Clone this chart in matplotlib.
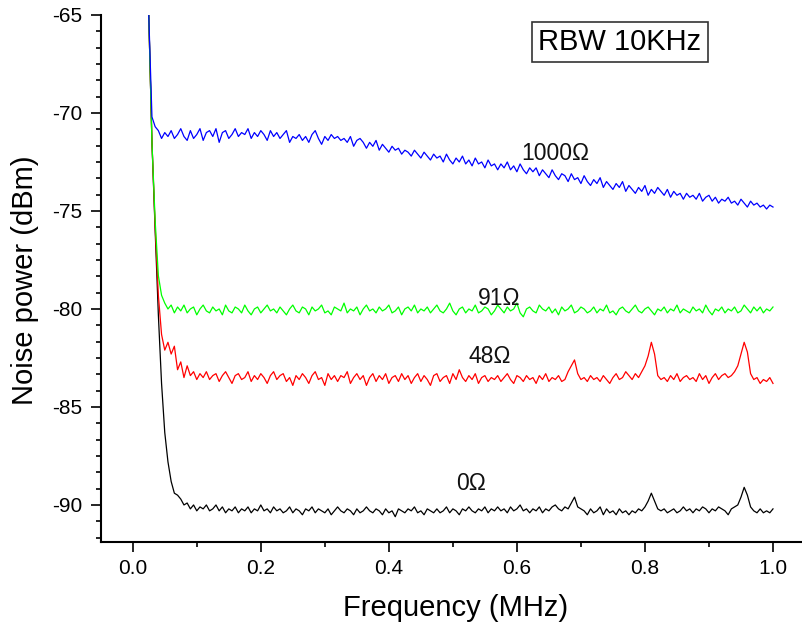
import numpy as np
import matplotlib
matplotlib.use("Agg")
import matplotlib.pyplot as plt
from matplotlib.ticker import MultipleLocator, AutoMinorLocator

plt.rcParams['font.family'] = ['Liberation Sans', 'DejaVu Sans']

# Frequency grid (MHz), sampled every 0.005 MHz from 0.025 to 1.0
freq_start, freq_stop, freq_step = 0.025, 1.0, 0.005
freq_mhz = np.round(np.arange(freq_start, freq_stop + freq_step / 2, freq_step), 4)

# Noise power (dBm) for each termination
p_1000ohm = [
    -65.0, -70.2, -70.7, -70.9, -71.3, -71.0, -71.2, -70.9, -71.3, -71.1,
    -70.8, -71.2, -71.4, -70.9, -71.3, -71.1, -70.8, -71.4, -71.0, -70.9,
    -71.2, -70.8, -71.5, -71.0, -70.9, -71.3, -71.1, -70.8, -71.2, -71.0,
    -71.1, -70.8, -71.3, -71.0, -71.2, -70.9, -71.1, -71.4, -70.9, -71.2,
    -71.0, -71.3, -71.1, -70.9, -71.5, -71.2, -71.3, -71.1, -71.4, -71.2,
    -71.5, -71.1, -70.9, -71.3, -71.6, -71.2, -71.4, -71.1, -71.3, -71.2,
    -71.4, -71.3, -71.5, -71.2, -71.7, -71.4, -71.3, -71.5, -71.8, -71.5,
    -71.7, -71.4, -71.9, -71.6, -71.8, -72.0, -71.7, -71.9, -71.8, -72.1,
    -71.9, -72.0, -72.2, -71.9, -72.1, -72.3, -72.0, -72.2, -72.4, -72.1,
    -72.3, -72.2, -72.5, -72.1, -72.4, -72.6, -72.3, -72.5, -72.2, -72.6,
    -72.4, -72.7, -72.3, -72.6, -72.5, -72.8, -72.4, -72.7, -72.6, -72.9,
    -72.6, -72.8, -72.5, -72.9, -72.7, -73.0, -72.6, -72.9, -73.1, -72.8,
    -73.0, -72.8, -73.2, -72.9, -73.1, -73.3, -72.9, -73.2, -73.4, -73.1,
    -73.2, -73.5, -73.1, -73.4, -73.3, -73.6, -73.2, -73.5, -73.7, -73.4,
    -73.6, -73.3, -73.8, -73.5, -73.7, -73.9, -73.6, -73.8, -73.5, -74.0,
    -73.7, -73.9, -74.1, -73.8, -74.0, -73.7, -74.2, -73.9, -74.1, -73.8,
    -74.0, -74.2, -73.9, -74.3, -74.0, -74.2, -74.1, -74.4, -74.1, -74.3,
    -74.2, -74.4, -74.1, -74.5, -74.3, -74.2, -74.5, -74.3, -74.6, -74.4,
    -74.5, -74.3, -74.6, -74.5, -74.7, -74.4, -74.6, -74.8, -74.5, -74.7,
    -74.6, -74.8, -74.7, -74.9, -74.7, -74.8,
]

p_91ohm = [
    -65.0, -71.5, -75.5, -78.3, -79.3, -79.7, -80.0, -79.8, -80.2, -79.9,
    -80.1, -79.8, -80.2, -80.0, -79.9, -80.3, -80.0, -79.8, -80.1, -80.2,
    -79.9, -80.1, -80.0, -80.3, -79.8, -80.1, -80.2, -79.9, -80.0, -80.2,
    -79.8, -80.1, -80.3, -80.0, -79.9, -80.2, -80.0, -79.8, -80.1, -80.0,
    -80.2, -79.9, -80.1, -80.3, -80.0, -79.8, -80.1, -80.2, -79.9, -80.0,
    -80.3, -79.9, -80.1, -80.0, -79.8, -80.2, -80.1, -80.3, -79.9, -80.0,
    -80.1, -79.7, -80.2, -80.0, -80.1, -79.9, -80.3, -80.0, -79.8, -80.1,
    -80.0, -80.2, -79.9, -80.1, -80.0, -79.8, -80.2, -80.1, -79.9, -80.3,
    -80.0, -79.9, -80.1, -79.8, -80.2, -80.0, -80.1, -79.9, -80.2, -80.0,
    -79.8, -80.1, -80.2, -80.0, -79.7, -80.1, -80.3, -80.0, -79.9, -80.2,
    -80.0, -80.1, -79.8, -80.2, -80.1, -79.9, -80.0, -80.3, -80.1, -79.8,
    -80.0, -80.2, -79.9, -80.1, -80.0, -79.7, -80.2, -80.4, -80.0, -79.9,
    -80.1, -80.2, -79.8, -80.0, -80.1, -79.9, -80.2, -80.0, -80.3, -79.9,
    -80.1, -80.0, -79.8, -80.2, -80.1, -79.9, -80.0, -80.2, -80.1, -79.9,
    -80.2, -80.0, -80.1, -79.8, -80.2, -80.1, -80.3, -80.0, -79.9, -80.1,
    -80.2, -80.0, -79.8, -80.1, -80.2, -80.0, -79.9, -80.1, -80.3, -80.0,
    -80.1, -79.9, -80.2, -80.0, -80.1, -79.8, -80.2, -80.0, -80.1, -80.2,
    -79.9, -80.1, -80.0, -80.2, -79.8, -80.1, -80.3, -80.0, -80.1, -79.9,
    -80.2, -80.0, -80.1, -79.9, -80.2, -80.1, -79.8, -80.0, -80.2, -79.9,
    -80.1, -79.9, -80.2, -80.0, -80.1, -79.9,
]

p_48ohm = [
    -65.0, -71.5, -75.8, -79.3, -81.3, -82.1, -81.7, -82.3, -81.9, -83.1,
    -82.7, -83.5, -82.9, -83.4, -83.2, -83.6, -83.3, -83.5, -83.2, -83.6,
    -83.4, -83.3, -83.7, -83.4, -83.2, -83.5, -83.8, -83.4, -83.3, -83.6,
    -83.5, -83.2, -83.7, -83.4, -83.6, -83.3, -83.5, -83.8, -83.4, -83.2,
    -83.6, -83.4, -83.3, -83.7, -83.5, -83.9, -83.4, -83.6, -83.3, -83.5,
    -83.8, -83.4, -83.2, -83.6, -83.5, -83.9, -83.3, -83.6, -83.4, -83.7,
    -83.4, -83.5, -83.2, -83.8, -83.5, -83.3, -83.6, -83.4, -83.9, -83.5,
    -83.3, -83.7, -83.4, -83.6, -83.3, -83.8, -83.5, -83.4, -83.7, -83.3,
    -83.6, -83.4, -83.8, -83.5, -83.3, -83.7, -83.4, -83.6, -83.9, -83.4,
    -83.3, -83.7, -83.5, -83.4, -83.8, -83.3, -83.6, -83.1, -83.5, -83.7,
    -83.4, -83.6, -83.3, -83.8, -83.5, -83.4, -83.7, -83.5, -83.6, -83.4,
    -83.7, -83.5, -83.3, -83.6, -83.8, -83.4, -83.5, -83.7, -83.4, -83.6,
    -83.5, -83.8, -83.4, -83.6, -83.3, -83.7, -83.5, -83.6, -83.4, -83.7,
    -83.6, -83.2, -82.9, -82.6, -83.3, -83.6, -83.5, -83.7, -83.4, -83.6,
    -83.5, -83.7, -83.4, -83.6, -83.8, -83.5, -83.3, -83.6, -83.5, -83.2,
    -83.4, -83.6, -83.3, -83.5, -83.2, -82.9, -82.4, -81.7, -82.3, -83.4,
    -83.6, -83.5, -83.7, -83.4, -83.6, -83.3, -83.7, -83.5, -83.4, -83.6,
    -83.5, -83.7, -83.3, -83.6, -83.4, -83.8, -83.5, -83.3, -83.6, -83.4,
    -83.3, -83.5, -83.4, -83.2, -82.9, -82.3, -81.7, -82.2, -83.3, -83.6,
    -83.5, -83.8, -83.6, -83.7, -83.5, -83.8,
]

p_0ohm = [
    -65.0, -71.5, -76.0, -80.3, -83.8, -86.3, -87.8, -88.8, -89.4, -89.5,
    -89.7, -90.0, -89.9, -90.2, -90.0, -90.3, -90.1, -90.2, -90.0, -90.3,
    -90.2, -90.0, -90.3, -90.1, -90.4, -90.2, -90.3, -90.1, -90.4, -90.2,
    -90.3, -90.1, -90.4, -90.2, -90.3, -90.0, -90.3, -90.2, -90.4, -90.1,
    -90.3, -90.2, -90.4, -90.3, -90.1, -90.4, -90.2, -90.3, -90.5, -90.2,
    -90.3, -90.1, -90.4, -90.2, -90.3, -90.4, -90.2, -90.5, -90.3, -90.1,
    -90.3, -90.4, -90.2, -90.3, -90.5, -90.2, -90.4, -90.3, -90.1, -90.3,
    -90.4, -90.2, -90.3, -90.5, -90.2, -90.4, -90.3, -90.6, -90.2, -90.3,
    -90.4, -90.2, -90.3, -90.1, -90.4, -90.3, -90.5, -90.2, -90.3, -90.4,
    -90.2, -90.4, -90.3, -90.1, -90.4, -90.2, -90.3, -90.5, -90.2, -90.3,
    -90.1, -90.3, -90.4, -90.2, -90.3, -90.1, -90.4, -90.2, -90.3, -90.1,
    -90.3, -90.2, -90.4, -90.1, -90.3, -90.2, -90.0, -90.3, -90.2, -90.4,
    -90.2, -90.3, -90.1, -90.4, -90.2, -90.3, -90.1, -90.0, -90.2, -90.3,
    -90.1, -90.2, -89.9, -89.6, -90.1, -90.2, -90.3, -90.5, -90.2, -90.4,
    -90.3, -90.1, -90.5, -90.2, -90.4, -90.3, -90.5, -90.2, -90.4, -90.3,
    -90.5, -90.3, -90.4, -90.2, -90.3, -90.1, -89.8, -89.4, -89.8, -90.2,
    -90.3, -90.2, -90.4, -90.3, -90.2, -90.4, -90.3, -90.1, -90.3, -90.2,
    -90.4, -90.2, -90.3, -90.1, -90.2, -90.4, -90.2, -90.3, -90.1, -90.2,
    -90.3, -90.5, -90.2, -90.1, -90.0, -89.6, -89.1, -89.5, -90.1, -90.3,
    -90.4, -90.2, -90.4, -90.3, -90.4, -90.2,
]

series_labels = ["0\u03A9", "48\u03A9", "91\u03A9", "1000\u03A9"]
series_colors = ["#000000", "#ff0000", "#00ff00", "#0000ff"]
series_values = [p_0ohm, p_48ohm, p_91ohm, p_1000ohm]
label_pos = [(0.528, -88.93), (0.558, -82.45), (0.573, -79.45), (0.66, -72.05)]

fig = plt.figure(figsize=(8.02, 6.32), dpi=100)
ax = fig.add_axes([0.1256, 0.1424, 0.8744, 0.8339])

for vals, col in zip(series_values, series_colors):
    ax.plot(freq_mhz, vals, color=col, lw=0.9)

for lab, (xp, yp) in zip(series_labels, label_pos):
    ax.text(xp, yp, lab, fontsize=16.5, ha='center', va='center', color='#111111')

ax.text(0.761, -66.38, "RBW 10KHz", fontsize=21, ha='center', va='center',
        bbox=dict(boxstyle='square,pad=0.22', fc='white', ec='#333333', lw=1.2))

ax.set_xlim(-0.05, 1.0453)
ax.set_ylim(-91.89, -65)
ax.xaxis.set_major_locator(MultipleLocator(0.2))
ax.xaxis.set_minor_locator(AutoMinorLocator(2))
ax.yaxis.set_major_locator(MultipleLocator(5))
ax.yaxis.set_minor_locator(AutoMinorLocator(6))
ax.xaxis.set_major_formatter(matplotlib.ticker.FormatStrFormatter('%.1f'))
ax.yaxis.set_major_formatter(matplotlib.ticker.FormatStrFormatter('%d'))

for s in ['top', 'right']:
    ax.spines[s].set_visible(False)
for s in ['left', 'bottom']:
    ax.spines[s].set_linewidth(1.5)

ax.tick_params(which='major', direction='out', length=7.2, width=1.2, labelsize=15, pad=5)
ax.tick_params(which='minor', direction='out', length=3.8, width=1.2)
ax.tick_params(axis='y', which='major', pad=6)

fig.text(0.5675, 0.038, "Frequency (MHz)", fontsize=21, ha='center', va='center')
fig.text(0.031, 0.557, "Noise power (dBm)", fontsize=21, ha='center', va='center', rotation=90)

fig.savefig("out.png", dpi=100)
